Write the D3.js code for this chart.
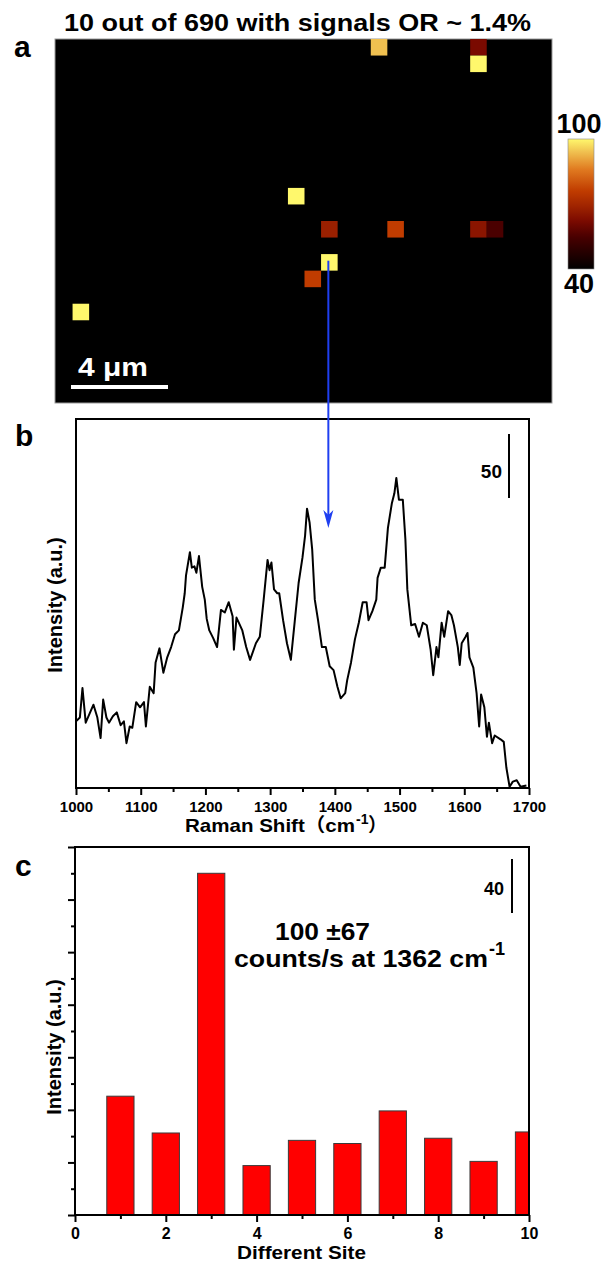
<!DOCTYPE html>
<html><head><meta charset="utf-8">
<script src="https://cdn.jsdelivr.net/npm/d3@7"></script>
<style>
html,body{margin:0;padding:0;background:#fff}
svg{display:block}
text{font-family:"Liberation Sans",Arial,"Noto Sans CJK SC",sans-serif;font-weight:bold;fill:#000}
</style>
</head><body>
<svg id="chart" width="608" height="1266"></svg>
<script>
// ---------- DATA ----------
// Panel a: Raman map
const mapTitle = "10 out of 690 with signals OR ~ 1.4%";
const mapCols = 30, mapRows = 22;
const pixelCol   = [19, 25, 25, 14, 16, 20, 25, 26, 16, 15, 1];
const pixelRow   = [0, 0, 1, 9, 11, 11, 11, 11, 13, 14, 16];
const pixelValue = [94, 62, 100, 100, 68, 76, 65, 55, 100, 76, 100];
const colorStops  = [40, 55, 62, 68, 76, 86, 94, 100];
const colorValues = ["#000000", "#4a0000", "#7a0a00", "#9a2000", "#c03c00", "#e07a20", "#f0c050", "#fff86c"];
const colorbarLabels = [100, 40];
const scaleBarLabel = "4 μm";

// Panel b: Raman spectrum
const shift = [
 1000,1006,1010,1015,1021,1027,1033,1038,1042,1047,
 1051,1057,1063,1069,1074,1078,1083,1087,1093,1099,
 1105,1108,1114,1120,1123,1129,1135,1141,1147,1153,
 1159,1165,1168,1170,1176,1179,1183,1186,1190,1195,
 1199,1202,1206,1212,1218,1224,1230,1236,1242,1244,
 1248,1257,1263,1269,1278,1284,1290,1296,1299,1302,
 1306,1311,1314,1320,1326,1332,1338,1344,1350,1354,
 1357,1361,1365,1369,1374,1380,1386,1392,1398,1404,
 1409,1416,1419,1425,1431,1437,1443,1449,1452,1458,
 1464,1466,1471,1477,1482,1488,1492,1495,1499,1505,
 1509,1512,1518,1524,1530,1536,1542,1548,1552,1557,
 1560,1565,1569,1575,1580,1584,1590,1593,1596,1602,
 1605,1608,1614,1619,1623,1626,1631,1635,1638,1643,
 1647,1656,1661,1665,1670,1675,1681,1687,1696];
const intensity = [
 52,55,78,51,58,65,55,39,69,55,
 51,56,59,49,52,35,48,47,67,63,
 67,48,79,74,98,109,90,102,110,120,
 123,141,152,166,184,172,173,168,181,157,
 147,132,123,117,110,139,137,145,134,108,
 133,123,110,100,113,118,147,178,170,176,
 155,152,152,131,113,100,130,160,180,197,
 218,207,186,147,131,110,110,95,92,79,
 70,74,84,98,116,129,145,145,131,138,
 147,164,172,172,203,222,230,242,225,225,
 194,155,127,128,118,129,127,108,88,110,
 102,129,118,138,135,127,110,96,113,118,
 121,102,94,74,48,73,63,40,51,35,
 41,38,36,16,1,5,6,1,2];
const shiftTicks = [1000, 1100, 1200, 1300, 1400, 1500, 1600, 1700];
const shiftMinorTicks = [1050, 1150, 1250, 1350, 1450, 1550, 1650];
const spectrumScaleLabel = "50";

// Panel c: intensity at different sites
const sites = [1, 2, 3, 4, 5, 6, 7, 8, 9, 10];
const siteIntensity = [113, 78, 325, 47, 71, 68, 99, 73, 51, 79];
const siteTicks = [0, 2, 4, 6, 8, 10];
const siteMinorTicks = [1, 3, 5, 7, 9];
const siteYMajor = [0, 50, 100, 150, 200, 250, 300, 350];
const siteYMinor = [25, 75, 125, 175, 225, 275, 325];
const siteScaleLabel = "40";

// ---------- DRAW ----------
const svg = d3.select("#chart");
const colorScale = d3.scaleLinear().domain(colorStops).range(colorValues).clamp(true);

// Panel a
const mapBox = {x0: 55, x1: 552, y0: 39, y1: 403};
const mx = d3.scaleLinear().domain([0, mapCols]).range([mapBox.x0, mapBox.x1]);
const my = d3.scaleLinear().domain([0, mapRows]).range([mapBox.y0, mapBox.y1]);

svg.append("text").attr("x", 64).attr("y", 31)
  .attr("textLength", 467).attr("lengthAdjust", "spacingAndGlyphs")
  .style("font-size", "23px").text(mapTitle);
svg.append("text").attr("x", 14).attr("y", 57).style("font-size", "30px").text("a");

svg.append("rect").attr("x", mapBox.x0).attr("y", mapBox.y0)
  .attr("width", mapBox.x1 - mapBox.x0).attr("height", mapBox.y1 - mapBox.y0)
  .attr("fill", "#000").attr("stroke", "#9a9a9a").attr("stroke-width", 1);

svg.append("g").selectAll("rect").data(pixelValue).join("rect")
  .attr("x", (d, i) => mx(pixelCol[i]) + 1)
  .attr("y", (d, i) => my(pixelRow[i]))
  .attr("width", mx(1) - mx(0))
  .attr("height", my(1) - my(0))
  .attr("fill", d => colorScale(d));

// scale bar
svg.append("rect").attr("x", 71).attr("y", 385).attr("width", 97).attr("height", 4).attr("fill", "#fff");
svg.append("text").attr("x", 78).attr("y", 376).style("font-size", "26px").style("fill", "#fff")
  .attr("textLength", 70).attr("lengthAdjust", "spacingAndGlyphs").text(scaleBarLabel);

// colorbar
const cb = {x: 568, y0: 139, y1: 269, w: 26};
const defs = svg.append("defs");
const grad = defs.append("linearGradient").attr("id", "cbgrad")
  .attr("x1", 0).attr("y1", 1).attr("x2", 0).attr("y2", 0);
const cbScale = d3.scaleLinear().domain(d3.extent(colorStops)).range([0, 1]);
d3.range(0, 61, 2).forEach(k => {
  const v = 40 + k;
  grad.append("stop").attr("offset", cbScale(v)).attr("stop-color", colorScale(v));
});
svg.append("rect").attr("x", cb.x).attr("y", cb.y0).attr("width", cb.w).attr("height", cb.y1 - cb.y0)
  .attr("fill", "url(#cbgrad)").attr("stroke", "#888").attr("stroke-width", 0.6);
svg.append("text").attr("x", 579).attr("y", 133).attr("text-anchor", "middle").style("font-size", "27px").text(colorbarLabels[0]);
svg.append("text").attr("x", 579).attr("y", 293).attr("text-anchor", "middle").style("font-size", "27px").text(colorbarLabels[1]);

// Panel b
const bBox = {x0: 76, x1: 529, y0: 419, y1: 788};
const bx = d3.scaleLinear().domain([1000, 1700]).range([bBox.x0, bBox.x1]);
const by = d3.scaleLinear().domain([0, 288]).range([bBox.y1, bBox.y0]);

svg.append("text").attr("x", 15).attr("y", 446).style("font-size", "30px").text("b");

const gbx = svg.append("g").attr("transform", `translate(0,${bBox.y1})`)
  .call(d3.axisBottom(bx).tickValues(shiftTicks).tickSize(7).tickPadding(6).tickFormat(d3.format("d")));
const gbm = svg.append("g").attr("transform", `translate(0,${bBox.y1})`)
  .call(d3.axisBottom(bx).tickValues(shiftMinorTicks).tickSize(4).tickFormat(""));
[gbx, gbm].forEach(g => { g.select(".domain").remove(); g.selectAll("line").attr("stroke", "#000").attr("stroke-width", 2); });
gbx.selectAll("text").style("font-size", "15px").style("font-family", "'Liberation Sans',Arial,sans-serif").style("font-weight", "bold");

svg.append("path")
  .datum(shift.map((s, i) => [s, intensity[i]]))
  .attr("d", d3.line().x(d => bx(d[0])).y(d => by(d[1])))
  .attr("fill", "none").attr("stroke", "#000").attr("stroke-width", 2).attr("stroke-linejoin", "round");

svg.append("rect").attr("x", bBox.x0).attr("y", bBox.y0)
  .attr("width", bBox.x1 - bBox.x0).attr("height", bBox.y1 - bBox.y0)
  .attr("fill", "none").attr("stroke", "#000").attr("stroke-width", 2);

// spectrum scale bar
svg.append("line").attr("x1", 509).attr("x2", 509).attr("y1", 434).attr("y2", 434 + (by(0) - by(50)))
  .attr("stroke", "#000").attr("stroke-width", 2);
svg.append("text").attr("x", 502).attr("y", 478).attr("text-anchor", "end").style("font-size", "19px").text(spectrumScaleLabel);

// axis titles
svg.append("text").attr("x", 185).attr("y", 832).style("font-size", "19px")
  .attr("textLength", 170).attr("lengthAdjust", "spacingAndGlyphs").text("Raman Shift（cm");
svg.append("text").attr("x", 356).attr("y", 824).style("font-size", "14px").text("-1");
svg.append("text").attr("x", 368).attr("y", 832).style("font-size", "19px").text("）");
svg.append("text").attr("transform", "translate(62,605) rotate(-90)").attr("text-anchor", "middle")
  .style("font-size", "20px").text("Intensity (a.u.)");

// Panel c
const cBox = {x0: 75, x1: 529, y0: 847, y1: 1215};
const cx = d3.scaleLinear().domain([0, 10]).range([cBox.x0, cBox.x1]);
const cy = d3.scaleLinear().domain([0, 350]).range([cBox.y1, cBox.y0]);

svg.append("text").attr("x", 15).attr("y", 876).style("font-size", "30px").text("c");

defs.append("clipPath").attr("id", "cclip").append("rect")
  .attr("x", cBox.x0).attr("y", cBox.y0).attr("width", cBox.x1 - cBox.x0).attr("height", cBox.y1 - cBox.y0);

const barW = cx(0.6) - cx(0);
svg.append("g").attr("clip-path", "url(#cclip)").selectAll("rect").data(siteIntensity).join("rect")
  .attr("x", (d, i) => cx(sites[i]) - barW / 2)
  .attr("y", d => cy(d))
  .attr("width", barW)
  .attr("height", d => cy(0) - cy(d))
  .attr("fill", "#ff0000").attr("stroke", "#3a3a3a").attr("stroke-width", 1);

const gcx = svg.append("g").attr("transform", `translate(0,${cBox.y1})`)
  .call(d3.axisBottom(cx).tickValues(siteTicks).tickSize(7).tickPadding(6).tickFormat(d3.format("d")));
const gcxm = svg.append("g").attr("transform", `translate(0,${cBox.y1})`)
  .call(d3.axisBottom(cx).tickValues(siteMinorTicks).tickSize(4).tickFormat(""));
const gcy = svg.append("g").attr("transform", `translate(${cBox.x0},0)`)
  .call(d3.axisLeft(cy).tickValues(siteYMajor).tickSize(7).tickFormat(""));
const gcym = svg.append("g").attr("transform", `translate(${cBox.x0},0)`)
  .call(d3.axisLeft(cy).tickValues(siteYMinor).tickSize(4).tickFormat(""));
[gcx, gcxm, gcy, gcym].forEach(g => { g.select(".domain").remove(); g.selectAll("line").attr("stroke", "#000").attr("stroke-width", 2); });
gcx.selectAll("text").style("font-size", "16px").style("font-family", "'Liberation Sans',Arial,sans-serif").style("font-weight", "bold");

svg.append("rect").attr("x", cBox.x0).attr("y", cBox.y0)
  .attr("width", cBox.x1 - cBox.x0).attr("height", cBox.y1 - cBox.y0)
  .attr("fill", "none").attr("stroke", "#000").attr("stroke-width", 2);

svg.append("line").attr("x1", 512).attr("x2", 512).attr("y1", 859).attr("y2", 913)
  .attr("stroke", "#000").attr("stroke-width", 2);
svg.append("text").attr("x", 504).attr("y", 895).attr("text-anchor", "end").style("font-size", "18px").text(siteScaleLabel);

svg.append("text").attr("x", 275).attr("y", 940).style("font-size", "24px")
  .attr("textLength", 95).attr("lengthAdjust", "spacingAndGlyphs").text("100 ±67");
svg.append("text").attr("x", 234).attr("y", 967).style("font-size", "24px")
  .attr("textLength", 254).attr("lengthAdjust", "spacingAndGlyphs").text("counts/s at 1362 cm");
svg.append("text").attr("x", 489).attr("y", 955).style("font-size", "18px").text("-1");

svg.append("text").attr("x", 237).attr("y", 1259).style("font-size", "18px")
  .attr("textLength", 129).attr("lengthAdjust", "spacingAndGlyphs").text("Different Site");
svg.append("text").attr("transform", "translate(61,1047) rotate(-90)").attr("text-anchor", "middle")
  .style("font-size", "20px").text("Intensity (a.u.)");

// Blue arrow from the mapped pixel to the spectrum
const ax = mx(16.5);
svg.append("line").attr("x1", ax).attr("x2", ax).attr("y1", my(13.4)).attr("y2", 516)
  .attr("stroke", "#1f3ff0").attr("stroke-width", 2);
svg.append("path").attr("d", `M${ax},528 L${ax - 5},510 L${ax},515 L${ax + 5},510 Z`).attr("fill", "#1f3ff0");
</script>
</body></html>
